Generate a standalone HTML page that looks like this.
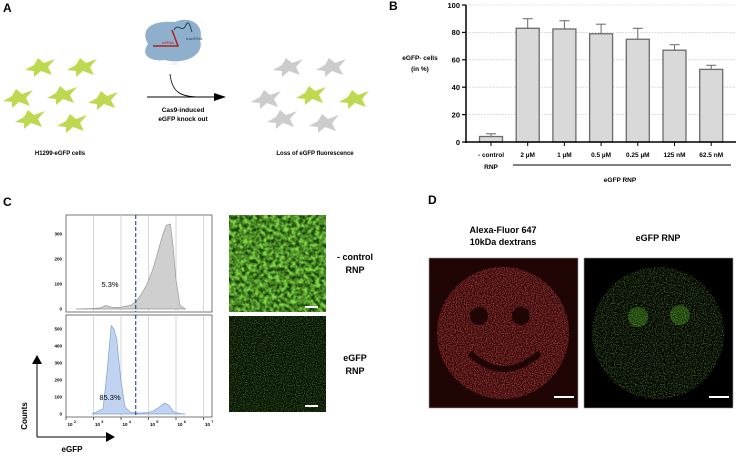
<!DOCTYPE html>
<html><head><meta charset="utf-8"><style>
html,body{margin:0;padding:0;background:#fff;width:738px;height:456px;overflow:hidden}
svg{display:block;font-family:"Liberation Sans",sans-serif}
</style></head><body>
<svg id="fig" width="738" height="456" viewBox="0 0 738 456">
<defs>
<symbol id="cell" viewBox="-16 -11 32 22"><path d="M-15,3 L-6,-2 L-2,-9 L4,-4 L15,-8 L8,0 L12,8 L1,4 L-6,10 L-6,4 Z"/></symbol>
<filter id="noiseR" x="0" y="0" width="100%" height="100%"><feTurbulence type="fractalNoise" baseFrequency="0.9" numOctaves="1" seed="3"/><feColorMatrix values="0 0 0 0 0.85  0 0 0 0 0.08  0 0 0 0 0.08  1.6 0 0 0 -0.55"/><feComposite in2="SourceGraphic" operator="in"/></filter>
<filter id="noiseG" x="0" y="0" width="100%" height="100%"><feTurbulence type="fractalNoise" baseFrequency="0.9" numOctaves="1" seed="5"/><feColorMatrix values="0 0 0 0 0.3  0 0 0 0 0.85  0 0 0 0 0.1  1.8 0 0 0 -0.8"/><feComposite in2="SourceGraphic" operator="in"/></filter>
<filter id="noiseC" x="0" y="0" width="100%" height="100%"><feTurbulence type="fractalNoise" baseFrequency="0.25" numOctaves="2" seed="7"/><feColorMatrix values="0 0 0 0 0.35  0 0 0 0 0.9  0 0 0 0 0.1  2.2 0 0 0 -0.6"/><feComposite in2="SourceGraphic" operator="in"/></filter>
</defs>

<!-- Panel A -->
<g>
<text x="3" y="12" font-size="12" font-weight="bold">A</text>
<g fill="#bcd94f">
<use href="#cell" x="24" y="56" width="32" height="22"/><use href="#cell" x="66" y="56" width="32" height="22"/>
<use href="#cell" x="2" y="87" width="32" height="22"/><use href="#cell" x="46" y="84" width="32" height="22"/>
<use href="#cell" x="87" y="89" width="32" height="22"/><use href="#cell" x="14" y="108" width="32" height="22"/>
<use href="#cell" x="56" y="112" width="32" height="22"/></g>
<g fill="#cccccc">
<use href="#cell" x="272" y="56" width="32" height="22"/><use href="#cell" x="315" y="56" width="32" height="22"/>
<use href="#cell" x="250" y="88" width="32" height="22"/><use href="#cell" x="266" y="108" width="32" height="22"/>
<use href="#cell" x="308" y="112" width="32" height="22"/></g>
<g fill="#bcd94f"><use href="#cell" x="295" y="84" width="32" height="22"/><use href="#cell" x="338" y="88" width="32" height="22"/></g>
<path d="M148,44 C140,30 150,20 175,22 C190,15 205,25 200,40 C205,55 185,65 165,60 C150,62 140,55 148,44Z" fill="#8fb0cc"/>
<path d="M153,46 L178,46 L172,30" stroke="#b02020" stroke-width="1.5" fill="none"/>
<path d="M174,30 C178,22 182,34 186,25 C189,18 191,30 192,32" stroke="#23405a" stroke-width="1" fill="none"/>
<text x="162" y="44" font-size="4" fill="#b02020">crRNA</text><text x="186" y="40" font-size="4" fill="#23405a">tracrRNA</text>
<text x="169" y="65" font-size="4" fill="#dde">Cas9</text>
<path d="M170,74 C172,92 180,97 200,97" stroke="#000" stroke-width="0.8" fill="none"/>
<line x1="147" y1="97" x2="215" y2="97" stroke="#000" stroke-width="1"/><path d="M214,93 L226,97 L214,101Z" fill="#000"/>
<text x="183" y="112" font-size="6.5" font-weight="bold" text-anchor="middle">Cas9-induced</text>
<text x="183" y="121" font-size="6.5" font-weight="bold" text-anchor="middle">eGFP knock out</text>
<text x="60" y="155" font-size="6" font-weight="bold" text-anchor="middle">H1299-eGFP cells</text>
<text x="315" y="155" font-size="6" font-weight="bold" text-anchor="middle">Loss of eGFP fluorescence</text>
</g>

<!-- Panel B -->
<g id="panelB">
<text x="389" y="10" font-size="12" font-weight="bold">B</text>
<text x="420" y="60" font-size="6.5" font-weight="bold" text-anchor="middle">eGFP- cells</text>
<text x="420" y="71" font-size="6.5" font-weight="bold" text-anchor="middle">(in %)</text>
</g>

<!-- Panel C -->
<g id="panelC">
<text x="3" y="206" font-size="12" font-weight="bold">C</text>
<rect x="229" y="215" width="97" height="97" fill="#0a1a05"/>
<rect x="229" y="215" width="97" height="97" fill="#fff" filter="url(#noiseC)"/>
<rect x="229" y="215" width="97" height="97" fill="#3c9a18" opacity="0.3"/>
<rect x="305" y="306" width="13" height="2" fill="#fff"/>
<rect x="229" y="316" width="97" height="96" fill="#061003"/>
<rect x="229" y="316" width="97" height="96" fill="#fff" filter="url(#noiseG)" opacity="0.7"/>
<rect x="305" y="405" width="13" height="2" fill="#fff"/>
<text x="355" y="260" font-size="9" font-weight="bold" text-anchor="middle">- control</text>
<text x="355" y="273" font-size="9" font-weight="bold" text-anchor="middle">RNP</text>
<text x="355" y="361" font-size="9" font-weight="bold" text-anchor="middle">eGFP</text>
<text x="355" y="374" font-size="9" font-weight="bold" text-anchor="middle">RNP</text>
<line x1="37" y1="437" x2="37" y2="362" stroke="#000" stroke-width="1"/><path d="M32,364 L37,355 L42,364Z"/>
<line x1="37" y1="437" x2="108" y2="437" stroke="#000" stroke-width="1"/><path d="M106,432 L115,437 L106,442Z"/>
<text x="27" y="416" font-size="8" font-weight="bold" transform="rotate(-90 27 416)" text-anchor="middle">Counts</text>
<text x="72" y="452" font-size="8" font-weight="bold" text-anchor="middle">eGFP</text>
</g>

<!-- Panel D -->
<g>
<text x="428" y="204" font-size="12" font-weight="bold">D</text>
<text x="503" y="233" font-size="9" font-weight="bold" text-anchor="middle">Alexa-Fluor 647</text>
<text x="503" y="245" font-size="9" font-weight="bold" text-anchor="middle">10kDa dextrans</text>
<text x="658" y="241" font-size="9" font-weight="bold" text-anchor="middle">eGFP RNP</text>
<rect x="429" y="258" width="149" height="150" fill="#200505" stroke="#999" stroke-width="0.6"/>
<circle cx="503" cy="333" r="66" fill="#fff" filter="url(#noiseR)"/>
<circle cx="479" cy="316" r="9" fill="#200505"/><circle cx="521" cy="316" r="9" fill="#200505"/>
<path d="M470,353 Q503,385 540,353" stroke="#200505" stroke-width="6" fill="none"/>
<rect x="554" y="396" width="20" height="2" fill="#fff"/>
<rect x="584" y="258" width="149" height="150" fill="#000" stroke="#999" stroke-width="0.6"/>
<circle cx="658" cy="333" r="66" fill="#fff" filter="url(#noiseG)" opacity="0.85"/>
<circle cx="638" cy="317" r="10" fill="#6c3" opacity="0.3"/><circle cx="680" cy="315" r="10" fill="#6c3" opacity="0.3"/>
<rect x="709" y="396" width="20" height="2" fill="#fff"/>
</g>

<script>
// ---------- Panel B data ----------
const categories = ["- control", "2 µM", "1 µM", "0.5 µM", "0.25 µM", "125 nM", "62.5 nM"];
const values = [4, 83, 82.5, 79, 75, 67, 53];
const errors = [2, 7, 6, 7, 8, 4, 3];
const yTicks = [0, 20, 40, 60, 80, 100];
// ---------- Panel C data ----------
const histLogX = [2.2, 2.8, 3.1, 3.3, 3.6, 3.9, 4.2, 4.4, 4.6, 4.8, 5.0, 5.2, 5.35, 5.5, 5.65, 5.75, 5.85, 6.0, 6.2];
const controlCounts = [0, 2, 4, 14, 5, 8, 15, 30, 60, 100, 155, 230, 290, 335, 340, 250, 120, 15, 0];
const ernpLogX = [2.8, 3.2, 3.35, 3.5, 3.6, 3.7, 3.85, 4.0, 4.2, 4.5, 4.8, 5.0, 5.2, 5.45, 5.6, 5.75, 6.0, 6.2];
const ernpCounts = [0, 30, 250, 520, 500, 440, 200, 40, 10, 5, 8, 15, 35, 65, 50, 15, 2, 0];
const xDecades = [2, 3, 4, 5, 6, 7];
const controlYTicks = [0, 100, 200, 300];
const ernpYTicks = [0, 100, 200, 300, 400, 500];
const gateLog = 4.5;
const pctControl = "5.3%";
const pctERNP = "85.3%";

const NS = "http://www.w3.org/2000/svg";
function mk(parent, tag, attrs, text) {
  const e = document.createElementNS(NS, tag);
  for (const k in attrs) e.setAttribute(k, attrs[k]);
  if (text !== undefined) e.textContent = text;
  parent.appendChild(e);
  return e;
}
// Panel B
const gB = document.getElementById("panelB");
const yB = v => 142 - v * (137 / 100);
const xB = i => 491 + i * 36.7;
yTicks.forEach(t => {
  if (t > 0) { const gl = mk(gB, "line", {x1: 466, x2: 736, y1: yB(t), y2: yB(t), stroke: "#bbb", "stroke-width": 0.6, "stroke-dasharray": "1.5,1.5"});
    }
  mk(gB, "line", {x1: 462, x2: 466, y1: yB(t), y2: yB(t), stroke: "#000", "stroke-width": 1.2});
  const lb = mk(gB, "text", {x: 460, y: yB(t) + 2.8, "font-size": 7.5, "font-weight": "bold", "text-anchor": "end"}, t);
   
});
values.forEach((v, i) => {
  const x = xB(i);
  mk(gB, "line", {x1: x, x2: x, y1: yB(v), y2: yB(v + errors[i]), stroke: "#666", "stroke-width": 1});
  mk(gB, "line", {x1: x - 5, x2: x + 5, y1: yB(v + errors[i]), y2: yB(v + errors[i]), stroke: "#666", "stroke-width": 1});
  const b = mk(gB, "rect", {x: x - 11.5, y: yB(v), width: 23, height: yB(0) - yB(v), fill: "#d9d9d9", stroke: "#6b6b6b", "stroke-width": 1.3});
   
  const lb = mk(gB, "text", {x: x, y: 157, "font-size": 6.5, "font-weight": "bold", "text-anchor": "middle"}, categories[i]);
   
  mk(gB, "line", {x1: x, x2: x, y1: 142, y2: 146, stroke: "#000", "stroke-width": 1});
});
const ya = mk(gB, "line", {x1: 466, x2: 466, y1: yB(100), y2: 143, stroke: "#000", "stroke-width": 1.5});

const xa = mk(gB, "line", {x1: 465, x2: 736, y1: 142, y2: 142, stroke: "#000", "stroke-width": 1.5});

mk(gB, "text", {x: 491, y: 169, "font-size": 6.5, "font-weight": "bold", "text-anchor": "middle"}, "RNP");
mk(gB, "line", {x1: 513, x2: 731, y1: 165, y2: 165, stroke: "#000", "stroke-width": 1});
const gl2 = mk(gB, "text", {x: 620, y: 182, "font-size": 6.5, "font-weight": "bold", "text-anchor": "middle"}, "eGFP RNP");


// Panel C histograms
const gC = document.getElementById("panelC");
const xC = l => 70 + (l - 2) * 27.5;
function hist(top, bottom, ymax, lx, cnt, ticks, fill, stroke, name, pct) {
  const yC = c => bottom - 3 - c * ((bottom - top - 12) / ymax);
  const box = mk(gC, "rect", {x: 66, y: top, width: 146, height: bottom - top, fill: "#fff", stroke: "#555", "stroke-width": 0.8});
   
  xDecades.forEach(d => { if (d > 2 && d < 7.5) mk(gC, "line", {x1: xC(d) - 4, x2: xC(d) - 4, y1: top, y2: bottom, stroke: "#ccc", "stroke-width": 0.8}); });
  let p = "M" + xC(lx[0]) + "," + yC(0);
  lx.forEach((l, i) => { p += " L" + xC(l) + "," + yC(cnt[i]); });
  p += " L" + xC(lx[lx.length - 1]) + "," + yC(0) + "Z";
  const h = mk(gC, "path", {d: p, fill: fill, stroke: stroke, "stroke-width": 0.7});
   
  ticks.forEach(t => mk(gC, "text", {x: 62, y: yC(t) + 1.5, "font-size": 4.5, "font-weight": "bold", "text-anchor": "end"}, t));
  mk(gC, "line", {x1: xC(gateLog) - 3, x2: xC(gateLog) - 3, y1: top, y2: bottom, stroke: "#1a2f7a", "stroke-width": 1, "stroke-dasharray": "4,2"});
  const pt = mk(gC, "text", {x: 110, y: yC(ticks[1]) + 3, "font-size": 7.5, "text-anchor": "middle"}, pct);
   
}
hist(215, 312, 340, histLogX, controlCounts, controlYTicks, "#cfcfcf", "#999", "control", pctControl);
hist(315, 417, 530, ernpLogX, ernpCounts, ernpYTicks, "#c2d3f2", "#7d9fdd", "egfp-rnp", pctERNP);
xDecades.forEach(d => {
  mk(gC, "text", {x: xC(d), y: 426, "font-size": 4.5, "font-weight": "bold", "text-anchor": "middle"}, "10");
  mk(gC, "text", {x: xC(d) + 3.8, y: 423, "font-size": 3.8, "font-weight": "bold"}, d);
  mk(gC, "line", {x1: xC(d) - 4, x2: xC(d) - 4, y1: 417, y2: 420, stroke: "#000", "stroke-width": 0.6});
});
</script>
</svg>
</body></html>
